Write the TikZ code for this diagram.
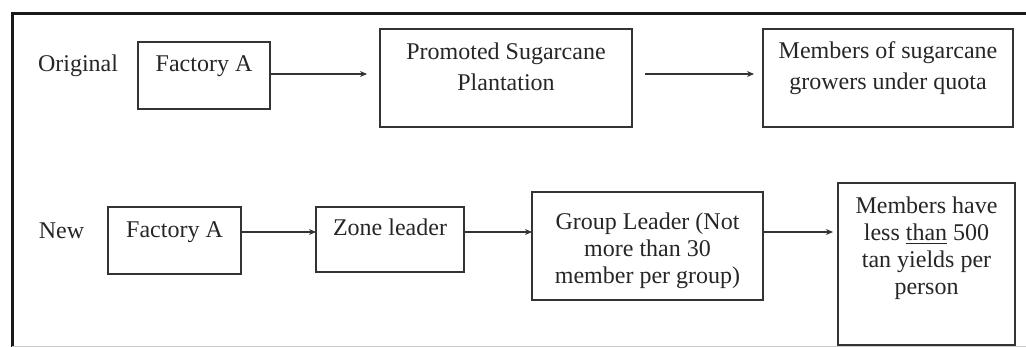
\documentclass[tikz,border=0pt]{standalone}
\usepackage{fontspec}
\setmainfont{Liberation Serif}
\usetikzlibrary{arrows.meta}
\begin{document}
\begin{tikzpicture}[x=0.5pt,y=-0.5pt,
  box/.style={draw=black!80,line width=0.9pt,rectangle,inner sep=0pt,outer sep=0pt},
  txt/.style={font=\fontsize{12pt}{15.5pt}\selectfont,text=black!85,align=center,inner sep=0pt,anchor=base},
  txtb/.style={txt,font=\fontsize{12pt}{13.4pt}\selectfont},
  arr/.style={draw=black!80,line width=0.6pt,-{Stealth[length=3.5pt,width=3pt]}}]
\useasboundingbox (0,0) rectangle (1026,347);
% outer frame
\draw[black!90,line width=1.5pt] (12,348) -- (12,13.5) -- (1027,13.5);
\draw[black!20,line width=0.5pt] (12,346) -- (1026,346);
% row 1
\node[txt] (lorig) at (78,72) {Original};
\node[box,minimum width=66pt,minimum height=33.5pt] (fa1) at (204,75.5) {};
\node[txt] (tfa1) at (204,72) {Factory A};
\node[box,minimum width=126pt,minimum height=49pt] (pr) at (506,78) {};
\node[txt] (tpr) at (506,91) {Promoted Sugarcane\\Plantation};
\node[box,minimum width=125pt,minimum height=49pt] (mem1) at (888,78) {};
\node[txt] (tmem1) at (888,90) {Members of sugarcane\\growers under quota};
\draw[arr,shorten >=6.5pt] ([yshift=0.75pt]fa1.east) coordinate (c1) -- (c1 -| pr.west);
\draw[arr,shorten <=6.5pt,shorten >=4.5pt] ([yshift=2pt]pr.east) coordinate (c2) -- (c2 -| mem1.west);
% row 2
\node[txt] (lnew) at (61.5,238) {New};
\node[box,minimum width=66.5pt,minimum height=33.5pt] (fa2) at (174.5,240.5) {};
\node[txt] (tfa2) at (174.5,237) {Factory A};
\node[box,minimum width=74pt,minimum height=32.5pt] (zone) at (390,239.5) {};
\node[txt] (tzone) at (390,235) {Zone leader};
\node[box,minimum width=115.5pt,minimum height=54pt] (gl) at (647.5,246) {};
\node[txtb] (tgl) at (647.5,283) {Group Leader (Not\\more than 30\\member per group)};
\node[box,minimum width=88.5pt,minimum height=81pt] (mem2) at (926.5,264) {};
\node[txtb] (tmem2) at (926.5,294) {Members have\\less \underline{than} 500\\tan yields per\\person};
\draw[arr] ([yshift=4.25pt]fa2.east) coordinate (c3) -- (c3 -| zone.west);
\draw[arr] ([yshift=3.75pt]zone.east) coordinate (c4) -- (c4 -| gl.west);
\draw[arr,shorten >=2.5pt] ([yshift=7pt]gl.east) coordinate (c5) -- (c5 -| mem2.west);
\end{tikzpicture}
\end{document}
